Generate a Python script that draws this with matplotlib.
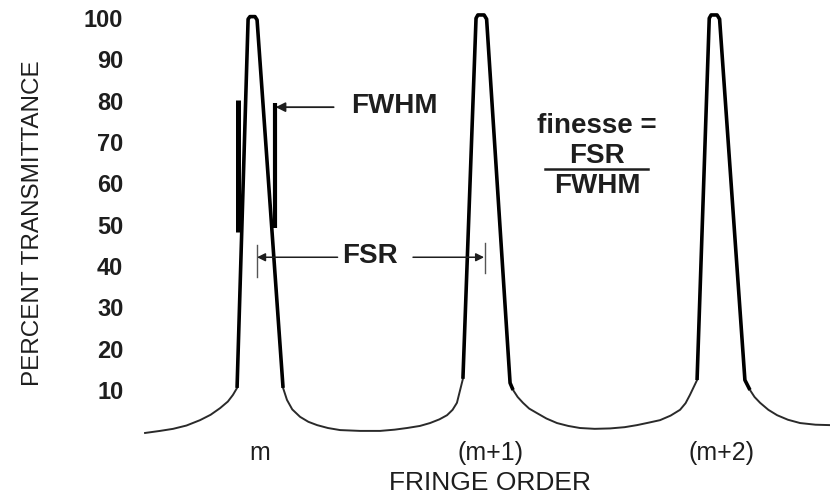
import numpy as np
import matplotlib.pyplot as plt

plt.rcParams['font.family'] = ['Liberation Sans', 'DejaVu Sans']

# Transmittance curve (fringe order, m = 0)
order = np.array([
    -0.465, -0.400, -0.343, -0.285, -0.226, -0.180, -0.139, -0.105, -0.083, -0.065,
    -0.017, -0.009, 0.013, 0.022, 0.135,
    0.152, 0.175, 0.209, 0.245, 0.283, 0.330, 0.383, 0.470, 0.557,
    0.620, 0.674, 0.730, 0.774, 0.815, 0.848, 0.872, 0.891, 0.917,
    0.974, 0.982, 1.009, 1.020, 1.122,
    1.135, 1.155, 1.178, 1.205, 1.239, 1.280, 1.326, 1.375, 1.426, 1.490,
    1.557, 1.620, 1.674, 1.725, 1.774, 1.820, 1.861, 1.885, 1.904, 1.935,
    1.988, 1.996, 2.022, 2.033, 2.143,
    2.165, 2.185, 2.209, 2.245, 2.283, 2.330, 2.383, 2.450, 2.513
])

trans = np.array([
    -0.4, 0.1, 0.6, 1.4, 2.7, 4.0, 5.6, 7.2, 8.8, 10.5,
    99.7, 100.3, 100.3, 99.5, 10.5,
    7.6, 5.3, 3.5, 2.3, 1.5, 0.8, 0.3, 0.1, 0.1,
    0.4, 0.8, 1.3, 2.0, 2.9, 3.9, 5.2, 6.9, 12.7,
    99.9, 100.7, 100.7, 99.7, 11.7,
    10.0, 8.3, 6.9, 5.5, 4.4, 3.1, 2.0, 1.3, 0.8, 0.6,
    0.7, 1.0, 1.5, 2.1, 2.7, 3.8, 5.2, 6.8, 8.8, 12.4,
    99.9, 100.7, 100.7, 99.7, 12.4,
    10.0, 8.3, 6.9, 5.2, 3.9, 2.8, 2.0, 1.6, 1.5
])

ytick_vals = [10, 20, 30, 40, 50, 60, 70, 80, 90, 100]
xtick_pos = [0.035, 1.035, 2.043]
xtick_labels = ['m', '(m+1)', '(m+2)']

# FWHM markers (order, low %, high %)
fwhm_left = (-0.061, 48.2, 80.1)
fwhm_right = (0.098, 49.2, 79.4)

# FSR dimension ticks
fsr_left = 0.022
fsr_right = 1.013

ink = '#1e1e1e'

fig = plt.figure(figsize=(8.3, 4.98), dpi=100)
ax = fig.add_axes([140 / 830, 58 / 498, 690 / 830, 430 / 498])

ax.plot(order, trans, color='#2a2a2a', lw=1.4, solid_joinstyle='round')
thick = np.where(trans >= 10, trans, np.nan)
ax.plot(order, thick, color='black', lw=2.6, solid_joinstyle='round',
        solid_capstyle='butt')

# FWHM bars and arrow
ax.plot([fwhm_left[0]] * 2, fwhm_left[1:], color='black', lw=3.6,
        solid_capstyle='butt')
ax.plot([fwhm_right[0]] * 2, fwhm_right[1:], color='black', lw=3.0,
        solid_capstyle='butt')
ax.annotate('', xy=(fwhm_right[0] + 0.005, 78.4), xytext=(0.355, 78.4),
            arrowprops=dict(arrowstyle='-|>', color=ink, lw=1.3,
                            mutation_scale=14, shrinkA=0, shrinkB=0))
ax.text(0.617, 78.7, 'FWHM', ha='center', va='center', fontsize=20,
        fontweight='bold', color=ink)

# FSR dimension line
ax.plot([fsr_left] * 2, [37.3, 45.1], color='#555555', lw=1.0)
ax.plot([fsr_right] * 2, [38.3, 45.6], color='#555555', lw=1.0)
ax.annotate('', xy=(fsr_left, 42.1), xytext=(0.372, 42.1),
            arrowprops=dict(arrowstyle='-|>', color=ink, lw=1.1,
                            mutation_scale=12, shrinkA=0, shrinkB=0))
ax.annotate('', xy=(fsr_right - 0.004, 42.1), xytext=(0.700, 42.1),
            arrowprops=dict(arrowstyle='-|>', color=ink, lw=1.1,
                            mutation_scale=12, shrinkA=0, shrinkB=0))
ax.text(0.513, 42.4, 'FSR', ha='center', va='center', fontsize=20,
        fontweight='bold', color=ink)

# finesse = FSR / FWHM
ax.text(1.50, 73.9, 'finesse =', ha='center', va='center', fontsize=20,
        fontweight='bold', color=ink)
ax.text(1.50, 66.6, 'FSR', ha='center', va='center', fontsize=20,
        fontweight='bold', color=ink)
ax.plot([1.274, 1.722], [63.5, 63.5], color=ink, lw=1.8)
ax.text(1.50, 59.3, 'FWHM', ha='center', va='center', fontsize=20,
        fontweight='bold', color=ink)

ax.set_xlim(-0.487, 2.513)
ax.set_ylim(-2.1, 101.9)

ax.set_yticks(ytick_vals)
ax.set_yticklabels([str(v) for v in ytick_vals], fontsize=17,
                   fontweight='bold', color=ink)
ax.set_xticks(xtick_pos)
ax.set_xticklabels(xtick_labels, fontsize=18, color=ink)
ax.tick_params(axis='y', length=0, pad=12)
ax.tick_params(axis='x', length=0, pad=1)

for s in ax.spines.values():
    s.set_visible(False)

ax.set_xlabel('FRINGE ORDER', fontsize=19, color=ink)
ax.xaxis.set_label_coords(0.507, -0.10)
ax.xaxis.label.set_va('center')
ax.set_ylabel('PERCENT TRANSMITTANCE', fontsize=17.5, color=ink)
ax.yaxis.set_label_coords(-0.155, 0.505)
ax.yaxis.label.set_va('center')

fig.savefig('out.png', dpi=100)
